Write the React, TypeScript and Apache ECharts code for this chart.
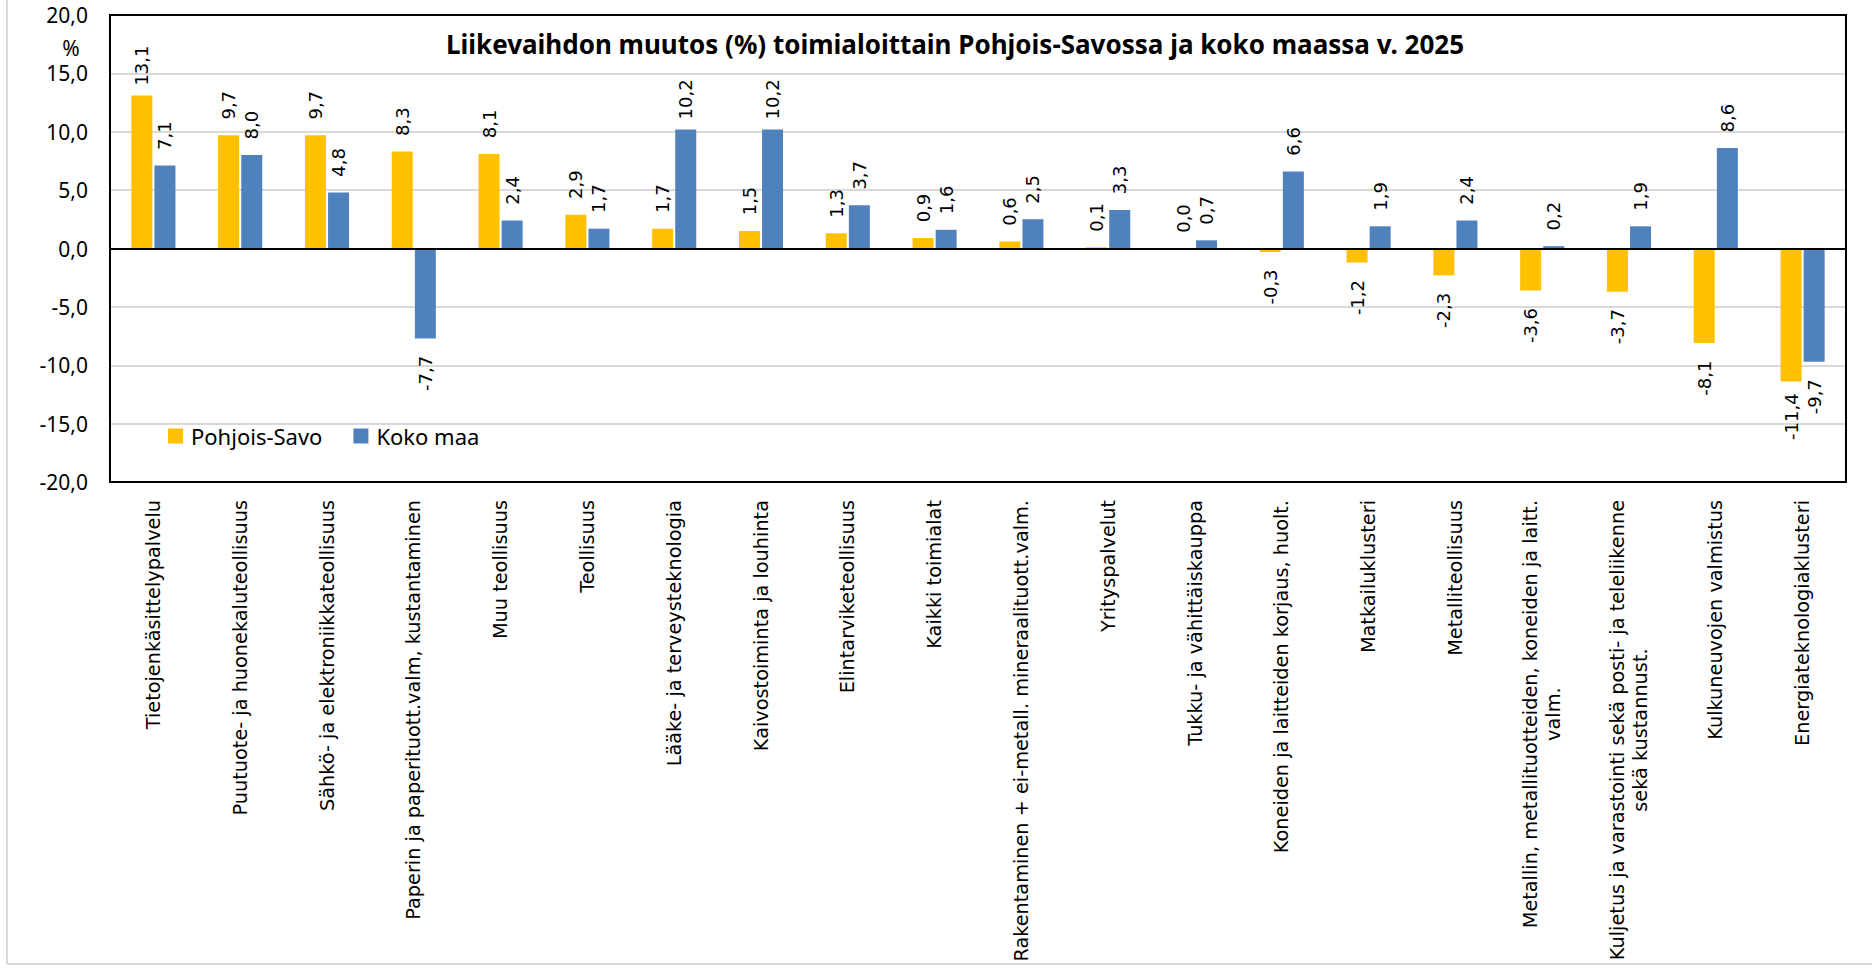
import React, { useEffect, useRef } from "react";
import * as echarts from "echarts";

const chartTitle =
  "Liikevaihdon muutos (%) toimialoittain Pohjois-Savossa ja koko maassa v. 2025";
const yUnit = "%";
const seriesNames = ["Pohjois-Savo", "Koko maa"];
const seriesColors = ["#FFC000", "#4F81BD"];

const categories = [
  "Tietojenkäsittelypalvelu",
  "Puutuote- ja huonekaluteollisuus",
  "Sähkö- ja elektroniikkateollisuus",
  "Paperin ja paperituott.valm, kustantaminen",
  "Muu teollisuus",
  "Teollisuus",
  "Lääke- ja terveysteknologia",
  "Kaivostoiminta ja louhinta",
  "Elintarviketeollisuus",
  "Kaikki toimialat",
  "Rakentaminen + ei-metall. mineraalituott.valm.",
  "Yrityspalvelut",
  "Tukku- ja vähittäiskauppa",
  "Koneiden ja laitteiden korjaus, huolt.",
  "Matkailuklusteri",
  "Metalliteollisuus",
  "Metallin, metallituotteiden, koneiden ja laitt.\nvalm.",
  "Kuljetus ja varastointi sekä posti- ja teleliikenne\nsekä kustannust.",
  "Kulkuneuvojen valmistus",
  "Energiateknologiaklusteri",
];

const pohjoisSavo = [
  13.1, 9.7, 9.7, 8.3, 8.1, 2.9, 1.7, 1.5, 1.3, 0.9, 0.6, 0.1, 0.0, -0.3, -1.2,
  -2.3, -3.6, -3.7, -8.1, -11.4,
];
const kokoMaa = [
  7.1, 8.0, 4.8, -7.7, 2.4, 1.7, 10.2, 10.2, 3.7, 1.6, 2.5, 3.3, 0.7, 6.6, 1.9,
  2.4, 0.2, 1.9, 8.6, -9.7,
];

const yMin = -20;
const yMax = 20;
const yInterval = 5;

const fmt = (v: number) => v.toFixed(1).replace(".", ",");

const W = 1872;
const H = 969;
const GRID = { left: 110, top: 15, right: 1846, bottom: 482 };

const LABEL_FONT = "DejaVu Sans";
const MAIN_FONT = "Noto Sans";
const CAT_FONT_SIZE = 19.3;

function makeData(values: number[]) {
  return values.map((v) => ({
    value: v,
    label:
      v >= 0
        ? { position: "top", distance: 30 }
        : { position: "bottom", distance: 35 },
  }));
}

export default function App() {
  const ref = useRef<HTMLDivElement>(null);

  useEffect(() => {
    if (!ref.current) return;
    const chart = echarts.init(ref.current, undefined, { renderer: "svg" });

    const barLabel = {
      show: true,
      rotate: 90,
      align: "center",
      verticalAlign: "middle",
      fontFamily: LABEL_FONT,
      fontSize: 18,
      color: "#000",
      formatter: (p: any) => fmt(p.value),
    };

    const option: any = {
      animation: false,
      backgroundColor: "#fff",
      grid: {
        left: GRID.left,
        top: GRID.top,
        right: W - GRID.right,
        bottom: H - GRID.bottom,
        containLabel: false,
        outerBoundsMode: "none",
      },
      legend: {
        left: 163,
        top: 420,
        itemWidth: 15,
        itemHeight: 15,
        itemGap: 31,
        icon: "rect",
        data: seriesNames,
        textStyle: {
          fontFamily: MAIN_FONT,
          fontSize: 22,
          color: "#000",
          padding: [0, 0, 0, 3],
        },
      },
      xAxis: {
        type: "category",
        data: categories,
        axisLine: { show: false, onZero: false },
        axisTick: { show: false },
        axisLabel: {
          interval: 0,
          rotate: 90,
          margin: 18,
          fontFamily: LABEL_FONT,
          fontSize: CAT_FONT_SIZE,
          color: "#000",
          lineHeight: 23,
          formatter: (val: string) =>
            val.includes("\n")
              ? val
                  .split("\n")
                  .map((l) => `{c|${l}}`)
                  .join("\n")
              : val,
          rich: {
            c: {
              align: "center",
              fontFamily: LABEL_FONT,
              fontSize: CAT_FONT_SIZE,
              color: "#000",
              lineHeight: 23,
            },
          },
        },
      },
      yAxis: {
        type: "value",
        min: yMin,
        max: yMax,
        interval: yInterval,
        axisLine: { show: false },
        axisTick: { show: false },
        axisLabel: {
          margin: 22,
          fontFamily: MAIN_FONT,
          fontSize: 21,
          color: "#000",
          formatter: (v: number) => fmt(v),
        },
        splitLine: { lineStyle: { color: "#D9D9D9", width: 2 } },
      },
      series: [
        {
          name: seriesNames[0],
          type: "bar",
          data: makeData(pohjoisSavo),
          barWidth: 21,
          barGap: "10%",
          itemStyle: { color: seriesColors[0] },
          label: barLabel,
          markLine: {
            silent: true,
            symbol: "none",
            label: { show: false },
            lineStyle: { color: "#000", width: 2, type: "solid" },
            data: [{ yAxis: 0 }],
            z: 5,
          },
        },
        {
          name: seriesNames[1],
          type: "bar",
          data: makeData(kokoMaa),
          barWidth: 21,
          barGap: "10%",
          itemStyle: { color: seriesColors[1] },
          label: barLabel,
        },
      ],
      graphic: [
        {
          type: "rect",
          z: 100,
          silent: true,
          shape: {
            x: GRID.left,
            y: GRID.top,
            width: GRID.right - GRID.left,
            height: GRID.bottom - GRID.top,
          },
          style: { fill: "none", stroke: "#000", lineWidth: 2 },
        },
        {
          type: "line",
          z: 100,
          silent: true,
          shape: { x1: 7, y1: 0, x2: 7, y2: 964 },
          style: { stroke: "#D9D9D9", lineWidth: 2 },
        },
        {
          type: "line",
          z: 100,
          silent: true,
          shape: { x1: 7, y1: 964, x2: W, y2: 964 },
          style: { stroke: "#D9D9D9", lineWidth: 2 },
        },
        {
          type: "text",
          z: 100,
          x: 955,
          y: 44,
          style: {
            text: chartTitle,
            fontFamily: MAIN_FONT,
            fontWeight: "bold",
            fontSize: 26,
            fill: "#000",
            align: "center",
            verticalAlign: "middle",
          },
        },
        {
          type: "text",
          z: 100,
          x: 71,
          y: 48,
          style: {
            text: yUnit,
            fontFamily: MAIN_FONT,
            fontSize: 21,
            fill: "#000",
            align: "center",
            verticalAlign: "middle",
          },
        },
      ],
    };

    chart.setOption(option);
    return () => chart.dispose();
  }, []);

  return (
    <div
      ref={ref}
      style={{
        position: "absolute",
        left: 0,
        top: 0,
        width: W,
        height: H,
        background: "#fff",
      }}
    />
  );
}
